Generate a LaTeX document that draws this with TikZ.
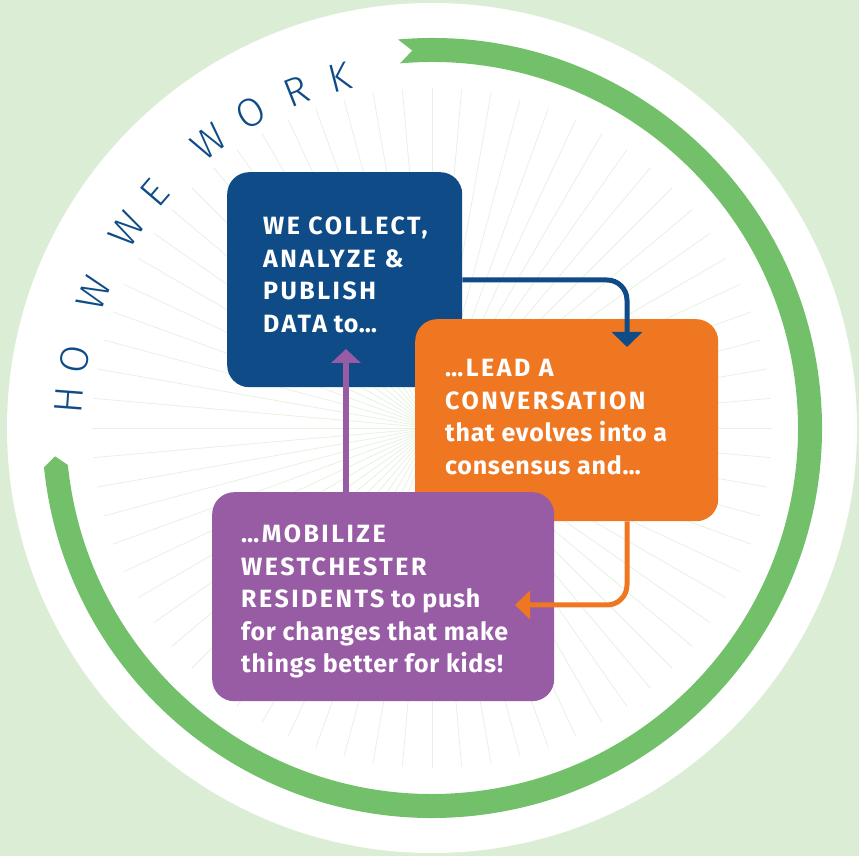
\documentclass[tikz,border=0pt]{standalone}
\usepackage{fontspec}
\setmainfont{Fira Sans}
\newfontfamily\boxfont[LetterSpace=3]{Fira Sans}
\newfontfamily\capsfont[LetterSpace=10]{Fira Sans}
\newfontfamily\titlefont{Fira Sans Light}
\newcommand\cp[1]{{\capsfont\bfseries #1}}
\usetikzlibrary{arrows.meta,calc}
\definecolor{bggreen}{RGB}{220,237,214}
\definecolor{ringgreen}{RGB}{114,193,106}
\definecolor{raycol}{RGB}{231,242,227}
\definecolor{cblue}{RGB}{15,76,135}
\definecolor{corange}{RGB}{240,119,34}
\definecolor{cpurple}{RGB}{152,92,165}
\tikzset{
  box/.style={rounded corners=22pt, inner sep=0pt, anchor=north west},
  boxtext/.style={text=white, align=left, anchor=north west, inner sep=0pt,
    font=\fontsize{25}{32.5}\selectfont\boxfont\bfseries},
  titlelet/.style={text=cblue, inner sep=0pt, font=\fontsize{40}{40}\selectfont\titlefont},
  flow/.style={rounded corners=20pt, line width=5pt},
}
\begin{document}
\begin{tikzpicture}[x=1pt,y=1pt]
\useasboundingbox (0,0) rectangle (859,856);
\fill[bggreen] (0,0) rectangle (859,856);
\coordinate (c) at (432,428);
\coordinate (tc) at (430,428);
\fill[white] (c) circle[radius=425pt];
% faint rays
\foreach \a in {0,5,...,355}
  \draw[raycol, line width=0.8pt] (c) -- ($(c)+(\a:340pt)$);
% green ring arrow
\fill[ringgreen] ($(c)+(95:390pt)$) arc[start angle=95, end angle=-174.2, radius=390pt]
  -- ($(c)+(-175.7:378pt)$) -- ($(c)+(-174.2:366pt)$)
  arc[start angle=-174.2, end angle=95, radius=366pt]
  -- ($(c)+(93:378pt)$) -- cycle;
% title
\foreach \l/\a [count=\i] in {H/175.6,O/169.1,W/158.1,W/146.8,E/139.5,W/127.7,O/119.6,R/111.6,K/104.5}
  \node[titlelet, rotate=\a-90] (title\i) at ($(tc)+(\a:362pt)$) {\l};
% boxes
\node[box, fill=cblue, minimum width=235pt, minimum height=215pt] (blue) at (227,684) {};
\node[box, fill=corange, minimum width=303pt, minimum height=202pt] (orange) at (415,537) {};
\node[box, fill=cpurple, minimum width=342pt, minimum height=209pt] (purple) at (212,364) {};
% texts
\node[boxtext] (bluetxt) at (263,639) {\cp{WE COLLECT,}\\\cp{ANALYZE \&}\\\cp{PUBLISH}\\\cp{DATA} to…};
\node[boxtext] (orangetxt) at (445,497) {\cp{…LEAD A}\\\cp{CONVERSATION}\\that evolves into a\\consensus and…};
\node[boxtext] (purpletxt) at (241,331) {\cp{…MOBILIZE}\\\cp{WESTCHESTER}\\\cp{RESIDENTS} to push\\for changes that make\\things better for kids!};
% connectors
\coordinate (b2oline) at (0,576);
\coordinate (b2o) at (627,509);
\draw[flow, cblue, -{Triangle[width=30pt,length=15pt]}] (blue.east |- b2oline) -| (b2o);
\coordinate (ox) at (627,0);
\coordinate (o2p) at (515,251);
\draw[flow, corange, -{Triangle[width=28pt,length=15pt]}] (orange.south -| ox) |- (o2p);
\coordinate (p2b) at (346,507);
\draw[line width=6pt, cpurple, -{Triangle[width=29pt,length=14pt]}] (purple.north -| p2b) -- (p2b);
\end{tikzpicture}
\end{document}
